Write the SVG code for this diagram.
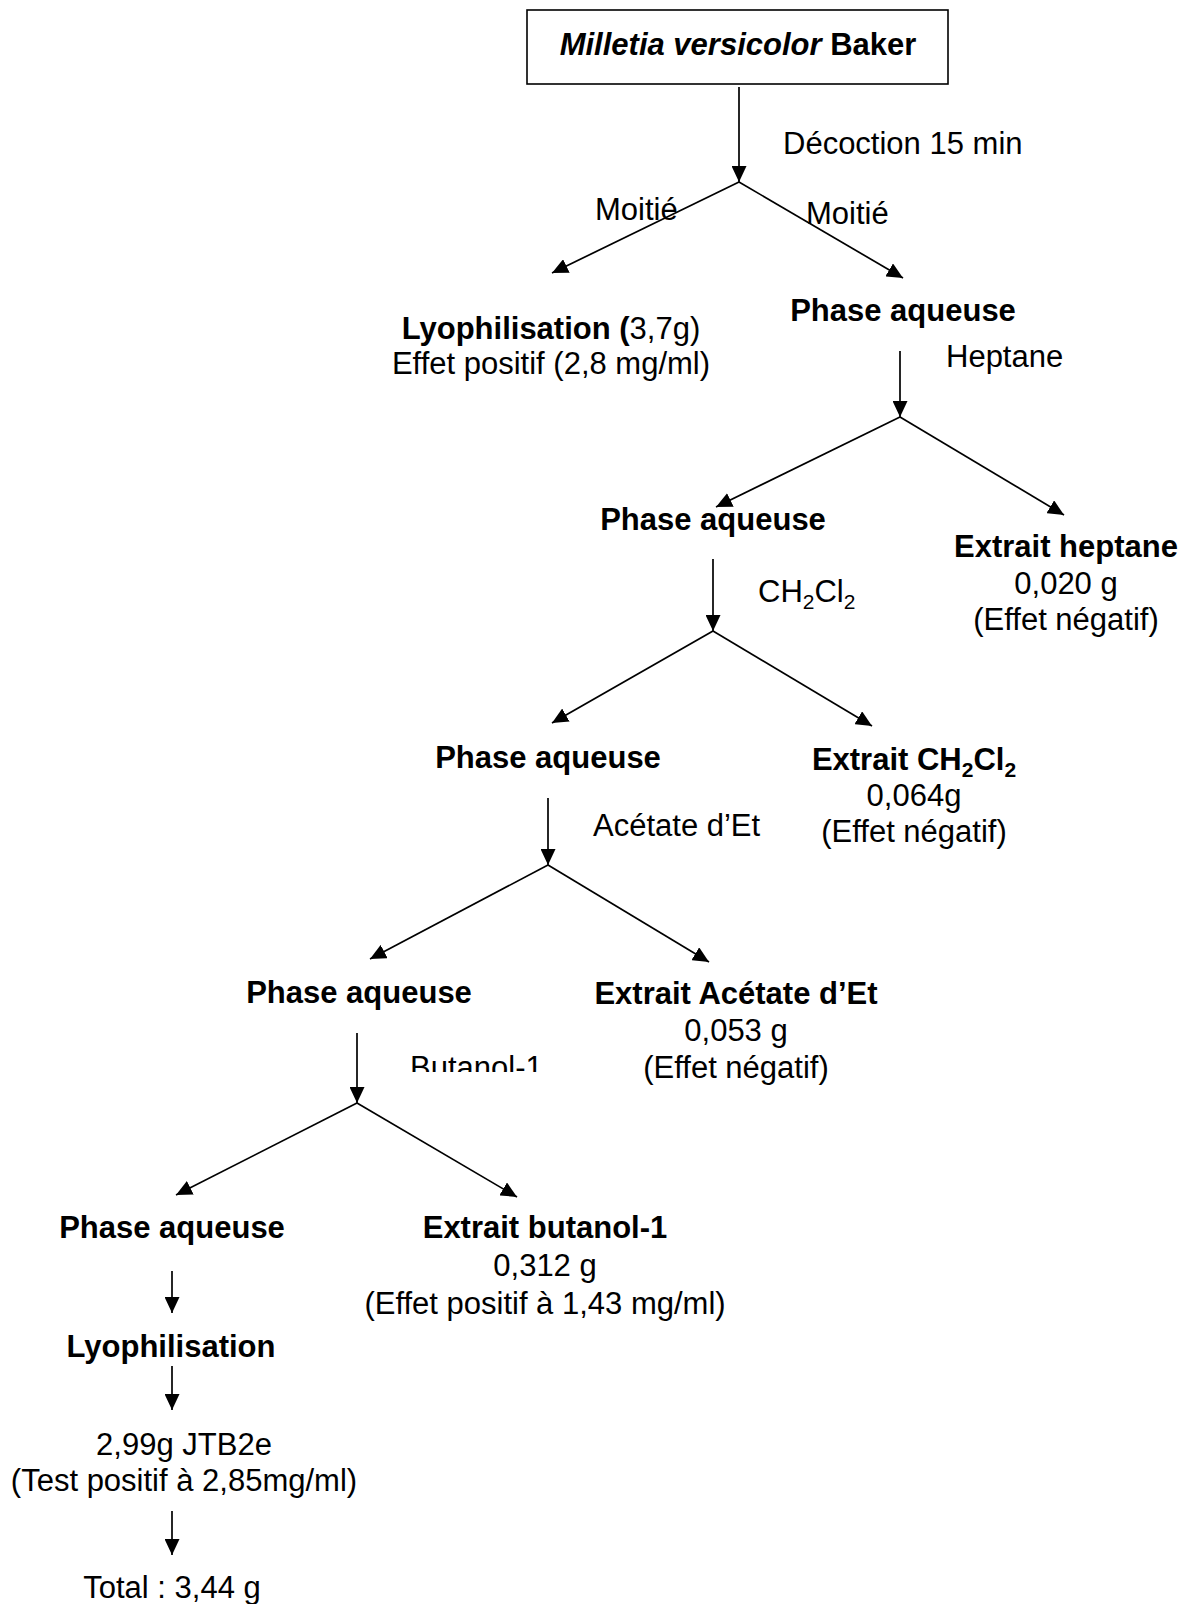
<svg xmlns="http://www.w3.org/2000/svg" width="1191" height="1604" viewBox="0 0 1191 1604">
<style>
text { font-family: "Liberation Sans", Arial, sans-serif; font-size: 31px; fill: #000; }
.b { font-weight: bold; }
.c { text-anchor: middle; }
.ln { stroke: #000; stroke-width: 1.7; fill: none; marker-end: url(#ah); }
.sub { font-size: 21px; }
</style>
<defs>
<marker id="ah" markerUnits="userSpaceOnUse" viewBox="0 0 16 15" markerWidth="16" markerHeight="15" refX="16" refY="7.5" orient="auto"><path d="M0,0 L16,7.5 L0,15 z" fill="#000"/></marker>
<clipPath id="clipBut"><rect x="380" y="1040" width="220" height="32"/></clipPath>
</defs>
<rect width="1191" height="1604" fill="#fff"/>
<g id="connectors">
<line class="ln" x1="739" y1="87" x2="739" y2="182"/>
<line class="ln" x1="739" y1="182" x2="552" y2="273"/>
<line class="ln" x1="739" y1="182" x2="903" y2="278"/>
<line class="ln" x1="900" y1="351" x2="900" y2="417"/>
<line class="ln" x1="900" y1="417" x2="716" y2="507"/>
<line class="ln" x1="900" y1="417" x2="1064" y2="515"/>
<line class="ln" x1="713" y1="559" x2="713" y2="631"/>
<line class="ln" x1="713" y1="631" x2="552" y2="723"/>
<line class="ln" x1="713" y1="631" x2="872" y2="726"/>
<line class="ln" x1="548" y1="798" x2="548" y2="865"/>
<line class="ln" x1="548" y1="865" x2="370" y2="959"/>
<line class="ln" x1="548" y1="865" x2="709" y2="962"/>
<line class="ln" x1="357" y1="1033" x2="357" y2="1103"/>
<line class="ln" x1="357" y1="1103" x2="176" y2="1195"/>
<line class="ln" x1="357" y1="1103" x2="517" y2="1197"/>
<line class="ln" x1="172" y1="1271" x2="172" y2="1313"/>
<line class="ln" x1="172" y1="1366" x2="172" y2="1410"/>
<line class="ln" x1="172" y1="1511" x2="172" y2="1555"/>
</g>
<g id="labels">
<text x="783" y="154">Décoction 15 min</text>
<text x="595" y="220">Moitié</text>
<text x="806" y="224">Moitié</text>
<text x="946" y="367">Heptane</text>
<text x="758" y="602">CH<tspan class="sub" dy="7">2</tspan><tspan dy="-7">Cl</tspan><tspan class="sub" dy="7">2</tspan></text>
<text x="593" y="836">Acétate d’Et</text>
<text x="410" y="1078" clip-path="url(#clipBut)">Butanol-1</text>
</g>
<g id="n-title">
<rect x="527" y="10" width="421" height="74" fill="none" stroke="#000" stroke-width="1.6"/>
<text class="b c" x="738" y="55"><tspan font-style="italic">Milletia versicolor</tspan> Baker</text>
</g>
<g id="n-lyo1">
<text class="c" x="551" y="339"><tspan class="b">Lyophilisation (</tspan>3,7g)</text>
<text class="c" x="551" y="374">Effet positif (2,8 mg/ml)</text>
</g>
<g id="n-pa1"><text class="b c" x="903" y="321">Phase aqueuse</text></g>
<g id="n-pa2"><text class="b c" x="713" y="530">Phase aqueuse</text></g>
<g id="n-hept">
<text class="b c" x="1066" y="557">Extrait heptane</text>
<text class="c" x="1066" y="594">0,020 g</text>
<text class="c" x="1066" y="630">(Effet négatif)</text>
</g>
<g id="n-pa3"><text class="b c" x="548" y="768">Phase aqueuse</text></g>
<g id="n-dcm">
<text class="b c" x="914" y="770">Extrait CH<tspan class="sub" dy="7">2</tspan><tspan dy="-7">Cl</tspan><tspan class="sub" dy="7">2</tspan></text>
<text class="c" x="914" y="806">0,064g</text>
<text class="c" x="914" y="842">(Effet négatif)</text>
</g>
<g id="n-pa4"><text class="b c" x="359" y="1003">Phase aqueuse</text></g>
<g id="n-acet">
<text class="b c" x="736" y="1004">Extrait Acétate d’Et</text>
<text class="c" x="736" y="1041">0,053 g</text>
<text class="c" x="736" y="1078">(Effet négatif)</text>
</g>
<g id="n-pa5"><text class="b c" x="172" y="1238">Phase aqueuse</text></g>
<g id="n-but">
<text class="b c" x="545" y="1238">Extrait butanol-1</text>
<text class="c" x="545" y="1276">0,312 g</text>
<text class="c" x="545" y="1314">(Effet positif à 1,43 mg/ml)</text>
</g>
<g id="n-lyo2"><text class="b c" x="171" y="1357">Lyophilisation</text></g>
<g id="n-jtb">
<text class="c" x="184" y="1455">2,99g JTB2e</text>
<text class="c" x="184" y="1491">(Test positif à 2,85mg/ml)</text>
</g>
<g id="n-total"><text class="c" x="172" y="1598">Total : 3,44 g</text></g>
</svg>
